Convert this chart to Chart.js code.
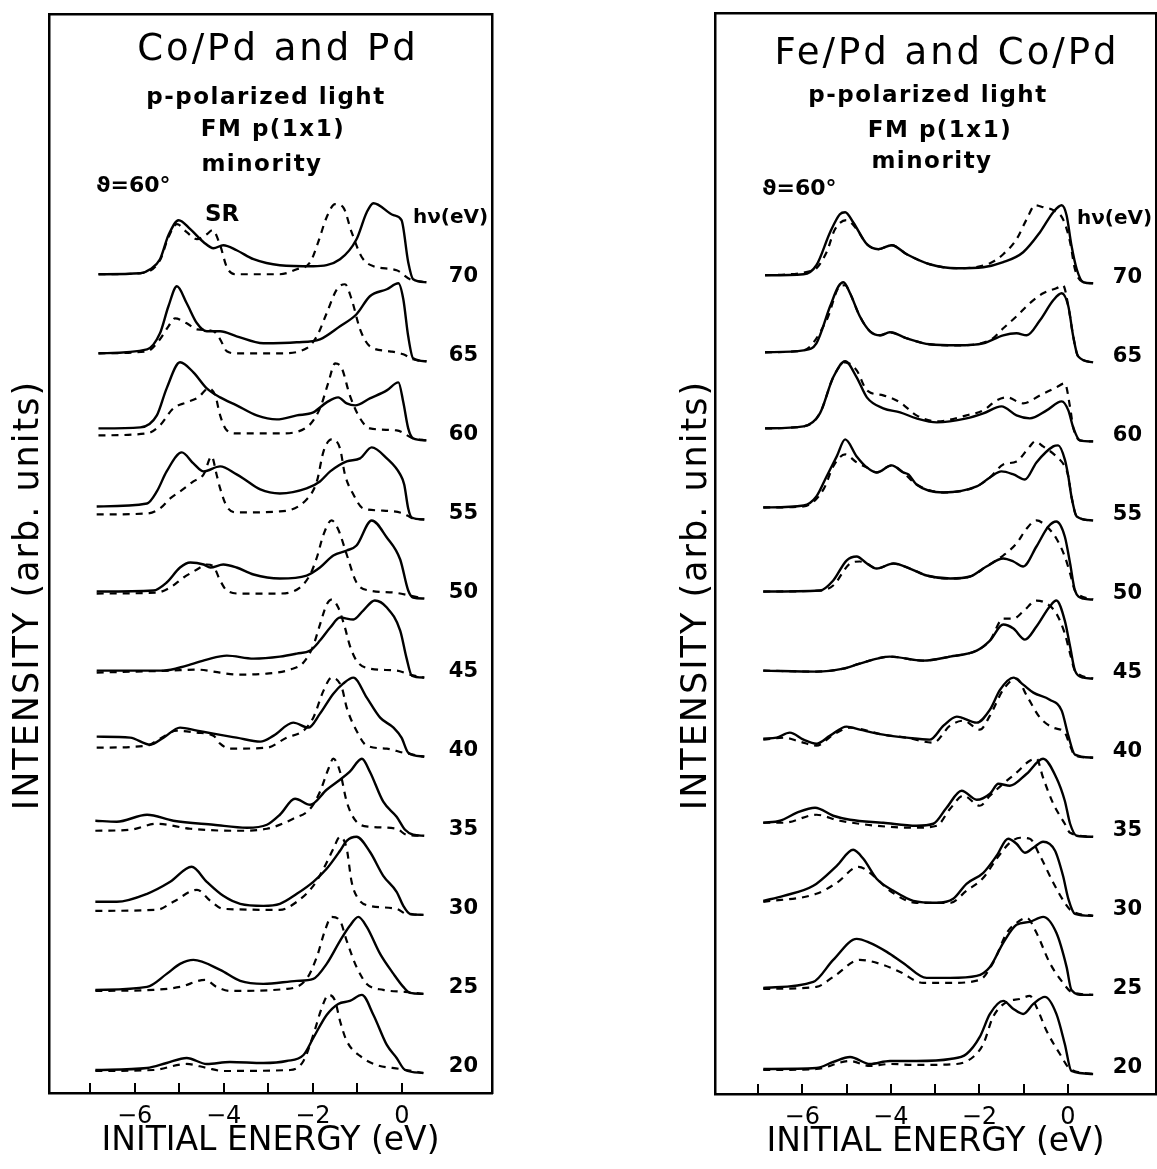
<!DOCTYPE html>
<html>
<head>
<meta charset="utf-8">
<title>Co/Pd, Pd and Fe/Pd minority spectra</title>
<script src="https://cdn.jsdelivr.net/npm/chart.js@4.4.1/dist/chart.umd.min.js"></script>
<style>
  html, body { margin: 0; padding: 0; background: #fff; overflow: hidden; }
  body { width: 1157px; height: 1169px; position: relative; font-family: "DejaVu Sans", sans-serif; color: #000; }
  canvas { position: absolute; top: 0; }
  #leftChart { left: 0; }
  #rightChart { left: 668px; }
  .lbl { position: absolute; white-space: nowrap; line-height: 1; z-index: 2; }
  .title { font-size: 37px; letter-spacing: 3px; text-align: center; width: 420px; }
  .sub { font-size: 23px; font-weight: bold; letter-spacing: 1.5px; text-align: center; width: 300px; }
  .tag { font-size: 22px; font-weight: bold; }
  .ytitle { font-size: 35px; letter-spacing: 2px; width: 500px; height: 40px; line-height: 40px;
            text-align: center; transform: rotate(-90deg); }
</style>
</head>
<body>
<canvas id="leftChart" width="495" height="1169" style="width:495px;height:1169px"></canvas>
<canvas id="rightChart" width="489" height="1169" style="width:489px;height:1169px"></canvas>

<!-- left panel labels -->
<div class="lbl title" style="left:68px;top:29px">Co/Pd and Pd</div>
<div class="lbl sub" style="left:116px;top:85px">p-polarized light</div>
<div class="lbl sub" style="left:123px;top:117px">FM p(1x1)</div>
<div class="lbl sub" style="left:112px;top:152px">minority</div>
<div class="lbl tag" style="left:96px;top:174px">ϑ=60°</div>
<div class="lbl tag" style="left:205px;top:202px;font-size:23px">SR</div>
<div class="lbl tag" style="left:413px;top:206px;font-size:20px">hν(eV)</div>
<div class="lbl ytitle" style="left:-224px;top:575px">INTENSITY (arb. units)</div>

<!-- right panel labels -->
<div class="lbl title" style="left:737px;top:33px">Fe/Pd and Co/Pd</div>
<div class="lbl sub" style="left:778px;top:83px">p-polarized light</div>
<div class="lbl sub" style="left:790px;top:118px">FM p(1x1)</div>
<div class="lbl sub" style="left:782px;top:149px">minority</div>
<div class="lbl tag" style="left:762px;top:177px">ϑ=60°</div>
<div class="lbl tag" style="left:1077px;top:207px;font-size:20px">hν(eV)</div>
<div class="lbl ytitle" style="left:444px;top:575px">INTENSITY (arb. units)</div>

<script>
// photon energies, bottom (20 eV) to top (70 eV)
var photonEnergies = [20, 25, 30, 35, 40, 45, 50, 55, 60, 65, 70]
var energyTicks = [-7, -6, -5, -4, -3, -2, -1, 0]

// each spectrum is a list of [initial energy (eV), intensity (arb.)], one per photon energy

// left panel, Co/Pd (solid)
var coPdSolid = [
  [[-6.88,3],[-5.72,5],[-5.28,10],[-4.83,15],[-4.38,9],[-3.86,11],[-3.11,10],[-2.59,12],[-2.21,18],[-1.99,35],[-1.69,58],[-1.43,69],[-1.17,72],[-0.90,78],[-0.64,58],[-0.34,28],[-0.12,15],[0.07,3],[0.48,0]],
  [[-6.88,4],[-5.72,7],[-5.28,20],[-4.98,30],[-4.68,34],[-4.08,24],[-3.63,13],[-3.11,10],[-2.36,13],[-1.99,15],[-1.69,30],[-1.39,53],[-1.17,68],[-0.98,77],[-0.79,67],[-0.49,40],[-0.19,20],[0.03,7],[0.18,1],[0.48,0]],
  [[-6.88,13],[-6.40,13],[-5.72,21],[-5.20,33],[-4.72,48],[-4.38,33],[-4.01,19],[-3.63,11],[-3.11,9],[-2.74,11],[-2.36,21],[-1.99,33],[-1.69,46],[-1.39,64],[-1.24,74],[-1.02,78],[-0.72,63],[-0.42,39],[-0.12,23],[0.03,9],[0.18,1],[0.48,0]],
  [[-6.88,15],[-6.40,14],[-5.72,21],[-5.13,15],[-4.23,11],[-3.48,8],[-3.03,11],[-2.74,21],[-2.40,37],[-2.06,31],[-1.69,46],[-1.39,56],[-1.17,64],[-0.90,77],[-0.72,64],[-0.42,34],[-0.12,19],[0.07,6],[0.25,1],[0.5,0]],
  [[-6.85,20],[-6.10,19],[-5.65,12],[-5.35,19],[-4.98,29],[-4.60,26],[-4.23,23],[-3.71,19],[-3.18,15],[-2.88,21],[-2.44,34],[-2.10,29],[-1.84,43],[-1.54,63],[-1.32,73],[-1.09,79],[-0.79,59],[-0.49,39],[-0.19,29],[-0.01,19],[0.14,4],[0.5,0]],
  [[-6.85,7],[-5.35,7],[-4.83,12],[-4.38,18],[-3.93,22],[-3.33,19],[-2.74,21],[-2.36,24],[-2.06,27],[-1.84,37],[-1.61,50],[-1.39,60],[-1.09,58],[-0.87,67],[-0.61,77],[-0.34,70],[-0.04,47],[0.10,20],[0.22,2],[0.5,0]],
  [[-6.85,7],[-5.58,8],[-5.28,16],[-4.98,31],[-4.75,36],[-4.45,34],[-4.30,31],[-4.01,34],[-3.71,31],[-3.33,24],[-2.74,20],[-2.14,23],[-1.84,31],[-1.54,43],[-1.24,48],[-1.02,53],[-0.68,78],[-0.34,61],[-0.04,39],[0.14,8],[0.25,1],[0.5,0]],
  [[-6.85,13],[-5.72,16],[-5.50,28],[-5.28,48],[-4.94,67],[-4.68,56],[-4.45,48],[-4.08,53],[-3.71,45],[-3.56,41],[-3.18,30],[-2.74,26],[-2.14,31],[-1.84,38],[-1.61,48],[-1.24,58],[-0.94,61],[-0.68,72],[-0.34,61],[-0.04,45],[0.05,35],[0.14,11],[0.22,2],[0.5,0]],
  [[-6.81,12],[-5.87,13],[-5.50,25],[-5.28,52],[-4.98,78],[-4.68,68],[-4.38,52],[-4.08,43],[-3.71,35],[-3.26,25],[-2.81,21],[-2.36,25],[-1.99,28],[-1.69,38],[-1.43,43],[-1.24,37],[-1.05,35],[-0.72,42],[-0.34,50],[-0.08,58],[0.03,38],[0.14,12],[0.25,2],[0.55,0]],
  [[-6.81,8],[-5.72,12],[-5.43,28],[-5.24,55],[-5.05,75],[-4.83,58],[-4.60,38],[-4.38,30],[-4.08,30],[-3.71,25],[-3.11,18],[-2.36,19],[-1.84,22],[-1.39,35],[-1.02,47],[-0.72,65],[-0.34,72],[-0.08,78],[0.03,62],[0.14,25],[0.25,3],[0.55,0]],
  [[-6.81,8],[-5.87,9],[-5.65,13],[-5.43,23],[-5.24,47],[-5.01,62],[-4.75,53],[-4.45,40],[-4.23,34],[-4.01,37],[-3.71,32],[-3.33,23],[-2.74,17],[-1.99,16],[-1.39,23],[-1.02,43],[-0.79,70],[-0.64,79],[-0.19,67],[-0.01,62],[0.14,20],[0.25,3],[0.55,0]]
]

// left panel, Pd (dashed)
var pdDashed = [
  [[-6.88,2],[-5.58,3],[-4.83,9],[-4.38,5],[-4.01,2],[-2.51,3],[-2.21,12],[-1.99,38],[-1.80,65],[-1.65,78],[-1.50,72],[-1.39,52],[-1.24,32],[-0.94,17],[-0.57,8],[-0.04,4],[0.48,0]],
  [[-6.88,3],[-5.58,4],[-4.98,7],[-4.42,14],[-4.16,7],[-3.86,3],[-2.59,5],[-2.14,15],[-1.91,37],[-1.73,63],[-1.58,77],[-1.39,73],[-1.24,53],[-1.02,27],[-0.79,10],[-0.42,4],[0.07,2],[0.48,0]],
  [[-6.88,4],[-5.50,5],[-5.13,13],[-4.60,25],[-4.30,14],[-4.01,6],[-2.74,5],[-2.36,13],[-1.99,29],[-1.76,46],[-1.54,66],[-1.39,78],[-1.24,66],[-1.13,33],[-0.98,16],[-0.72,9],[-0.12,6],[0.10,1],[0.48,0]],
  [[-6.88,5],[-6.10,6],[-5.50,12],[-4.75,7],[-3.71,5],[-3.03,7],[-2.44,17],[-2.06,27],[-1.84,44],[-1.65,67],[-1.54,77],[-1.39,64],[-1.24,34],[-1.02,14],[-0.72,9],[-0.12,7],[0.10,1],[0.5,0]],
  [[-6.85,9],[-5.72,11],[-5.43,18],[-5.05,26],[-4.60,24],[-4.23,21],[-4.08,13],[-3.86,8],[-3.03,9],[-2.59,19],[-2.21,26],[-1.99,39],[-1.76,66],[-1.58,79],[-1.35,69],[-1.24,49],[-1.02,26],[-0.79,11],[-0.34,8],[0.03,4],[0.5,0]],
  [[-6.85,5],[-5.20,7],[-4.60,8],[-4.08,5],[-3.71,3],[-3.03,4],[-2.51,8],[-2.21,15],[-1.99,32],[-1.84,53],[-1.69,73],[-1.58,78],[-1.43,70],[-1.28,50],[-1.17,32],[-1.02,17],[-0.72,9],[-0.12,7],[0.18,3],[0.5,0]],
  [[-6.85,5],[-5.50,6],[-5.20,11],[-4.90,21],[-4.60,29],[-4.38,34],[-4.23,32],[-4.08,18],[-3.93,8],[-3.63,5],[-2.74,5],[-2.29,11],[-2.06,24],[-1.91,41],[-1.76,64],[-1.58,78],[-1.43,69],[-1.24,44],[-1.02,16],[-0.72,8],[-0.19,6],[0.18,3],[0.5,0]],
  [[-6.85,5],[-5.72,6],[-5.43,11],[-5.20,21],[-4.98,28],[-4.68,38],[-4.45,45],[-4.27,63],[-4.16,45],[-4.08,31],[-3.93,13],[-3.71,7],[-2.74,8],[-2.14,20],[-1.91,38],[-1.76,68],[-1.58,80],[-1.39,71],[-1.28,45],[-1.09,25],[-0.87,11],[-0.49,9],[0.03,6],[0.25,1],[0.5,0]],
  [[-6.81,5],[-5.72,7],[-5.43,15],[-5.13,32],[-4.83,38],[-4.57,43],[-4.34,52],[-4.19,45],[-4.08,25],[-3.93,10],[-3.71,7],[-2.74,7],[-2.14,13],[-1.84,32],[-1.65,58],[-1.50,77],[-1.35,72],[-1.17,45],[-0.94,22],[-0.72,12],[-0.12,10],[0.25,2],[0.55,0]],
  [[-6.81,8],[-5.72,10],[-5.43,22],[-5.24,35],[-5.09,43],[-4.83,38],[-4.60,32],[-4.23,30],[-4.08,22],[-3.93,10],[-3.71,8],[-2.74,8],[-2.14,13],[-1.91,25],[-1.69,48],[-1.46,72],[-1.28,77],[-1.13,62],[-0.94,32],[-0.72,15],[-0.27,10],[0.03,7],[0.25,2],[0.55,0]],
  [[-6.81,8],[-5.87,9],[-5.43,22],[-5.24,45],[-5.05,58],[-4.83,50],[-4.60,43],[-4.38,48],[-4.25,52],[-4.08,37],[-3.93,15],[-3.74,8],[-2.74,8],[-2.36,13],[-2.06,20],[-1.88,40],[-1.69,65],[-1.50,78],[-1.32,75],[-1.13,50],[-0.90,25],[-0.64,16],[-0.12,12],[0.18,3],[0.55,0]]
]

// right panel, Fe/Pd (solid)
var fePdSolid = [
  [[-6.88,5],[-5.68,6],[-5.30,12],[-4.92,17],[-4.47,10],[-4.02,13],[-3.42,13],[-2.66,15],[-2.29,20],[-1.99,37],[-1.76,60],[-1.46,73],[-1.23,65],[-1.01,60],[-0.78,70],[-0.52,77],[-0.26,60],[-0.07,30],[0.08,3],[0.57,0]],
  [[-6.88,7],[-5.75,13],[-5.30,35],[-4.77,56],[-4.47,52],[-4.09,43],[-3.72,32],[-3.19,17],[-2.66,17],[-2.06,19],[-1.76,28],[-1.46,52],[-1.16,70],[-0.86,73],[-0.56,78],[-0.26,62],[-0.03,28],[0.08,5],[0.35,0],[0.57,0]],
  [[-6.88,15],[-6.42,20],[-5.75,30],[-5.22,50],[-4.85,66],[-4.62,57],[-4.32,37],[-3.94,25],[-3.49,15],[-2.96,13],[-2.59,17],[-2.29,32],[-1.91,43],[-1.61,60],[-1.35,77],[-1.16,72],[-0.97,63],[-0.78,68],[-0.56,74],[-0.29,65],[-0.11,40],[0.01,17],[0.16,2],[0.57,0]],
  [[-6.88,14],[-6.50,16],[-6.12,24],[-5.71,29],[-5.30,21],[-4.92,17],[-4.17,14],[-3.42,11],[-3.04,13],[-2.74,29],[-2.40,46],[-2.06,37],[-1.76,43],[-1.57,53],[-1.31,51],[-0.93,63],[-0.56,78],[-0.26,59],[-0.07,36],[0.05,13],[0.20,1],[0.57,0]],
  [[-6.88,19],[-6.58,20],[-6.28,25],[-5.97,18],[-5.68,14],[-5.37,22],[-5.00,31],[-4.70,28],[-4.17,23],[-3.64,20],[-3.12,18],[-2.81,32],[-2.51,41],[-2.06,35],[-1.76,48],[-1.53,68],[-1.23,80],[-1.01,73],[-0.78,65],[-0.41,58],[-0.14,47],[0.01,22],[0.16,3],[0.57,0]],
  [[-6.88,8],[-5.68,7],[-5.07,10],[-4.70,15],[-4.02,22],[-3.27,18],[-2.66,22],[-2.06,28],[-1.76,38],[-1.46,54],[-1.23,50],[-0.97,39],[-0.71,52],[-0.41,72],[-0.26,78],[-0.07,58],[0.05,32],[0.16,8],[0.35,1],[0.57,0]],
  [[-6.88,8],[-5.60,9],[-5.30,19],[-5.00,39],[-4.77,43],[-4.54,36],[-4.32,31],[-3.94,36],[-3.57,31],[-3.19,24],[-2.66,21],[-2.21,23],[-1.84,33],[-1.46,41],[-1.23,38],[-1.01,33],[-0.71,53],[-0.44,73],[-0.26,78],[-0.07,63],[0.05,36],[0.16,9],[0.35,1],[0.57,0]],
  [[-6.88,13],[-5.97,15],[-5.68,24],[-5.45,44],[-5.22,64],[-5.03,81],[-4.77,64],[-4.54,53],[-4.32,48],[-3.98,55],[-3.72,48],[-3.60,46],[-3.42,36],[-2.81,28],[-2.06,34],[-1.76,43],[-1.50,49],[-1.23,46],[-0.97,41],[-0.71,58],[-0.33,74],[-0.22,75],[-0.07,61],[0.01,44],[0.08,24],[0.20,4],[0.57,0]],
  [[-6.84,13],[-5.97,15],[-5.60,28],[-5.30,64],[-5.03,80],[-4.77,64],[-4.54,44],[-4.17,33],[-3.79,29],[-3.42,23],[-2.96,19],[-2.29,23],[-1.91,28],[-1.50,35],[-1.16,26],[-0.86,23],[-0.48,31],[-0.14,40],[0.01,31],[0.12,14],[0.27,1],[0.57,0]],
  [[-6.84,10],[-5.97,12],[-5.68,19],[-5.37,56],[-5.18,76],[-5.07,80],[-4.92,69],[-4.70,46],[-4.47,31],[-4.24,27],[-4.02,30],[-3.64,24],[-3.12,18],[-2.51,17],[-1.91,19],[-1.46,27],[-1.16,29],[-0.93,27],[-0.63,42],[-0.33,62],[-0.14,69],[0.01,56],[0.12,26],[0.23,6],[0.57,0]],
  [[-6.84,8],[-5.97,9],[-5.68,18],[-5.37,51],[-5.15,69],[-5.03,71],[-4.85,61],[-4.54,39],[-4.28,34],[-3.98,38],[-3.64,29],[-3.12,19],[-2.51,15],[-1.91,16],[-1.46,21],[-1.01,31],[-0.63,51],[-0.33,71],[-0.14,78],[-0.03,68],[0.08,38],[0.20,14],[0.35,1],[0.57,0]]
]

// right panel, Co/Pd (dashed)
var coPdDashed = [
  [[-6.88,4],[-5.68,5],[-4.92,13],[-4.47,8],[-4.02,10],[-3.42,9],[-2.51,10],[-2.14,17],[-1.91,30],[-1.69,57],[-1.38,72],[-1.08,75],[-0.86,78],[-0.71,67],[-0.48,43],[-0.18,20],[0.05,5],[0.57,0]],
  [[-6.88,6],[-5.68,8],[-5.30,18],[-4.70,35],[-4.17,30],[-3.79,23],[-3.27,12],[-2.66,12],[-1.99,15],[-1.69,32],[-1.38,62],[-1.16,72],[-0.93,77],[-0.71,62],[-0.41,32],[-0.11,12],[0.08,3],[0.57,0]],
  [[-6.88,14],[-5.68,22],[-5.22,33],[-4.73,49],[-4.39,40],[-4.02,25],[-3.42,13],[-2.66,13],[-2.29,25],[-1.91,38],[-1.61,57],[-1.31,73],[-1.08,78],[-0.86,77],[-0.63,60],[-0.33,33],[-0.07,13],[0.08,5],[0.57,0]],
  [[-6.88,14],[-6.42,14],[-5.68,22],[-5.15,16],[-3.42,9],[-2.96,11],[-2.66,28],[-2.36,41],[-1.99,31],[-1.76,41],[-1.46,53],[-1.16,64],[-0.86,76],[-0.71,78],[-0.56,59],[-0.33,33],[-0.07,13],[0.05,4],[0.57,0]],
  [[-6.88,18],[-6.42,20],[-6.05,16],[-5.68,12],[-5.30,23],[-4.92,30],[-4.17,23],[-3.64,20],[-3.04,15],[-2.66,32],[-2.36,37],[-1.99,28],[-1.76,42],[-1.46,68],[-1.16,79],[-0.93,62],[-0.63,40],[-0.33,30],[-0.07,25],[0.05,12],[0.16,2],[0.57,0]],
  [[-6.88,8],[-5.68,7],[-5.07,10],[-4.70,15],[-4.02,22],[-3.27,18],[-2.66,22],[-2.06,28],[-1.76,38],[-1.46,60],[-1.23,60],[-1.01,67],[-0.71,78],[-0.48,75],[-0.26,65],[-0.07,45],[0.05,25],[0.16,8],[0.57,0]],
  [[-6.88,8],[-5.60,9],[-5.30,14],[-4.92,36],[-4.70,38],[-4.54,36],[-4.32,31],[-3.94,36],[-3.57,31],[-3.19,24],[-2.66,21],[-2.21,23],[-1.84,33],[-1.46,44],[-1.16,56],[-0.93,71],[-0.71,79],[-0.48,73],[-0.26,61],[-0.07,43],[0.05,26],[0.16,9],[0.57,0]],
  [[-6.88,13],[-5.97,14],[-5.52,31],[-5.30,54],[-5.03,66],[-4.77,58],[-4.54,53],[-4.32,48],[-3.98,55],[-3.72,48],[-3.42,36],[-2.81,28],[-2.06,34],[-1.76,43],[-1.46,56],[-1.16,59],[-0.86,74],[-0.74,79],[-0.56,74],[-0.26,64],[-0.07,54],[0.01,44],[0.08,24],[0.20,4],[0.57,0]],
  [[-6.84,13],[-5.97,15],[-5.60,28],[-5.30,64],[-5.03,79],[-4.77,71],[-4.54,51],[-4.17,46],[-3.79,39],[-3.42,26],[-2.96,20],[-2.29,26],[-1.91,31],[-1.61,41],[-1.38,44],[-1.01,38],[-0.63,46],[-0.26,54],[-0.07,58],[0.05,34],[0.12,14],[0.27,1],[0.57,0]],
  [[-6.84,10],[-5.97,12],[-5.45,42],[-5.15,76],[-5.03,77],[-4.92,69],[-4.70,46],[-4.47,31],[-4.24,27],[-4.02,30],[-3.64,24],[-3.12,18],[-2.51,17],[-1.76,22],[-1.46,34],[-1.16,46],[-0.86,59],[-0.56,69],[-0.26,74],[-0.11,77],[0.01,56],[0.12,26],[0.23,6],[0.57,0]],
  [[-6.84,8],[-5.75,13],[-5.45,31],[-5.26,54],[-5.00,63],[-4.77,54],[-4.54,39],[-4.28,34],[-3.98,38],[-3.64,29],[-3.12,19],[-2.51,15],[-1.76,20],[-1.46,29],[-1.16,44],[-0.93,64],[-0.74,78],[-0.56,76],[-0.33,73],[-0.11,64],[0.05,41],[0.16,14],[0.35,1],[0.57,0]]
]

var stackStep = 79   // vertical offset between successive spectra
var labelLift = 6    // hv numbers sit a bit above each baseline

Chart.defaults.font.family = '"DejaVu Sans", sans-serif'
Chart.defaults.color = '#000'

// photon energy next to each spectrum, and tick marks pointing into the frame
var panelMarks = {
  id: 'panelMarks',
  afterDatasetsDraw: function(chart) {
    var ctx = chart.ctx
    var area = chart.chartArea
    var x = chart.scales.x
    var y = chart.scales.y
    ctx.save()
    ctx.strokeStyle = '#000'
    ctx.lineWidth = 2
    energyTicks.forEach(function(v) {
      var px = Math.round(x.getPixelForValue(v))
      ctx.beginPath()
      ctx.moveTo(px, area.bottom)
      ctx.lineTo(px, area.bottom - 10)
      ctx.stroke()
    })
    ctx.font = 'bold 21px "DejaVu Sans"'
    ctx.fillStyle = '#000'
    ctx.textAlign = 'right'
    ctx.textBaseline = 'middle'
    photonEnergies.forEach(function(hv, k) {
      ctx.fillText(String(hv), area.right - 14, y.getPixelForValue(k * stackStep + labelLift))
    })
    ctx.restore()
  }
}

function buildSets(solid, dashed) {
  var sets = []
  photonEnergies.forEach(function(hv, k) {
    sets.push({
      label: hv + ' eV (dashed)',
      data: dashed[k].map(function(p) { return {x: p[0], y: p[1] + k * stackStep} }),
      borderColor: '#000',
      borderWidth: 2.2,
      borderDash: [7, 6],
      pointRadius: 0,
      fill: false,
      cubicInterpolationMode: 'monotone'
    })
    sets.push({
      label: hv + ' eV',
      data: solid[k].map(function(p) { return {x: p[0], y: p[1] + k * stackStep} }),
      borderColor: '#000',
      borderWidth: 2.4,
      pointRadius: 0,
      fill: false,
      cubicInterpolationMode: 'monotone'
    })
  })
  return sets
}

function makePanel(id, solid, dashed, cfg) {
  var frame = {display: true, color: '#000', width: 2.5}
  return new Chart(document.getElementById(id), {
    type: 'line',
    data: {datasets: buildSets(solid, dashed)},
    options: {
      responsive: false,
      animation: false,
      devicePixelRatio: 1,
      layout: {padding: {top: cfg.top, left: cfg.left, right: cfg.right, bottom: 0}},
      plugins: {legend: {display: false}, tooltip: {enabled: false}},
      scales: {
        x: {
          type: 'linear', position: 'bottom', min: cfg.xMin, max: cfg.xMax,
          afterBuildTicks: function(axis) { axis.ticks = energyTicks.map(function(v) { return {value: v} }) },
          grid: {display: false, drawTicks: false},
          border: frame,
          ticks: {
            padding: 12, autoSkip: false, maxRotation: 0,
            font: {size: 24, lineHeight: 1},
            callback: function(v) {
              if (v % 2 !== 0) return ''
              return v < 0 ? '\u2212' + Math.abs(v) : '0'
            }
          },
          title: {display: true, text: 'INITIAL ENERGY (eV)', font: {size: 33, lineHeight: 1},
                  padding: {top: cfg.titleTop, bottom: cfg.titleBottom}}
        },
        xTop: {
          type: 'linear', position: 'top', min: cfg.xMin, max: cfg.xMax,
          ticks: {display: false}, grid: {display: false, drawTicks: false}, border: frame
        },
        y: {
          type: 'linear', position: 'left', min: -20, max: cfg.yMax,
          ticks: {display: false}, grid: {display: false, drawTicks: false}, border: frame
        },
        yRight: {
          type: 'linear', position: 'right', min: -20, max: cfg.yMax,
          ticks: {display: false}, grid: {display: false, drawTicks: false}, border: frame
        }
      }
    },
    plugins: [panelMarks]
  })
}

makePanel('leftChart', coPdSolid, pdDashed,
  {top: 14, left: 49, right: 3, xMin: -7.92, xMax: 2.02, yMax: 1058, titleTop: -16.5, titleBottom: 11.5})
makePanel('rightChart', fePdSolid, coPdDashed,
  {top: 13, left: 47, right: 1, xMin: -7.97, xMax: 1.99, yMax: 1060, titleTop: -16.5, titleBottom: 10.5})
</script>
</body>
</html>
